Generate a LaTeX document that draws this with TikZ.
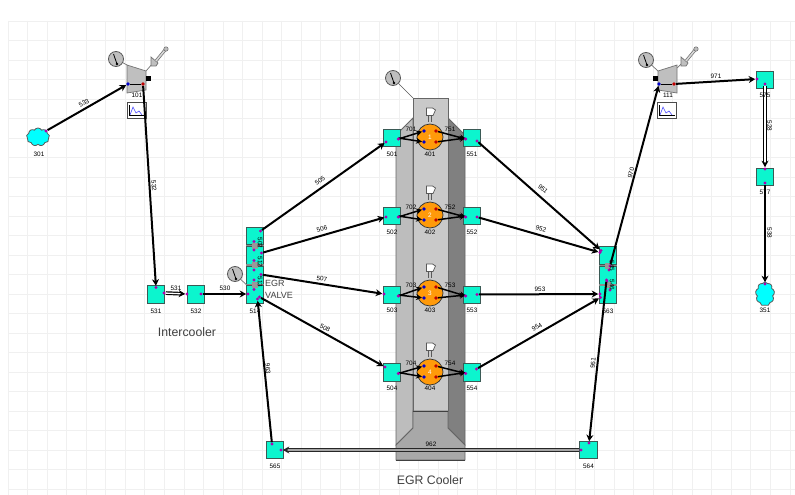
\documentclass[tikz,border=0pt]{standalone}
\usepackage{fontspec}
\setmainfont{Liberation Sans}
\usetikzlibrary{arrows.meta,shapes.symbols}
\definecolor{boxfill}{HTML}{0CF5CE}
\definecolor{boxedge}{HTML}{3A5A55}
\definecolor{portmag}{HTML}{B000B0}
\definecolor{gridc}{HTML}{F0F0F0}
\definecolor{cloudc}{HTML}{00FFFF}
\definecolor{cylc}{HTML}{FF9A0A}
\tikzset{
  pipebox/.style={draw=boxedge,line width=1.2pt,fill=boxfill,minimum width=17.5pt,minimum height=17.5pt,inner sep=0pt},
  lbl/.style={font=\fontsize{6.4}{7}\selectfont,text=black,inner sep=0pt},
  bigtxt/.style={font=\fontsize{12.3}{14}\selectfont,text=black!75,inner sep=0pt},
  port/.style={circle,fill=portmag,minimum size=3.2pt,inner sep=0pt},
  bport/.style={circle,fill=blue!80!black,minimum size=3.6pt,inner sep=0pt},
  rport/.style={circle,fill=red!75!black,minimum size=3.6pt,inner sep=0pt},
  pipe/.style={draw=black,line width=2pt,-{Stealth[length=6.5pt,width=7pt]}},
  runner/.style={draw=black,line width=1.5pt,-{Stealth[length=6pt,width=6pt]}},
  dpipe/.style={draw=black,line width=1.2pt,double=white,double distance=1.3pt,-{Stealth[length=6.5pt,width=7pt]}},
  gpipe/.style={draw=black!85,line width=1.1pt,double=black!35,double distance=1.6pt,-{Stealth[length=6.5pt,width=7pt]}},
  gaugec/.style={circle,draw=black!65,fill=black!25,line width=.8pt,minimum size=15pt,inner sep=0pt},
  cyl/.style={circle,draw=black!80,fill=cylc,line width=.7pt,minimum size=26pt,inner sep=0pt},
  vesselline/.style={draw=black!60,line width=.9pt},
  orifice/.style={fill=black!45,minimum width=18pt,minimum height=1.6pt,inner sep=0pt},
  orbody/.style={fill=black!40,minimum width=6pt,minimum height=6pt,inner sep=0pt},
  turb/.style={fill=black!25,draw=black!55,line width=.7pt},
  inj/.style={fill=white,draw=black!65,line width=.7pt},
  plotbox/.style={draw=black!70,fill=white,line width=.8pt,minimum width=18.5pt,minimum height=15.5pt,inner sep=0pt},
  cloudn/.style={cloud,cloud puffs=9,cloud puff arc=120,draw=black!65,fill=cloudc,line width=.8pt,inner sep=0pt}
}
\newcommand{\gaugeat}[3]{%
  \node[gaugec] (#1) at (#2,#3) {};
  \draw[black,line width=.8pt] (#2-2.5,#3-5) -- (#2+1,#3+5);
  \fill[black] (#2+1,#3+5) circle (1.4pt);
}
\newcommand{\plotwave}[2]{%
  \draw[blue!70,line width=.6pt] (#1-7,#2+5) -- (#1-4,#2-3) -- (#1-1,#2+3) -- (#1+2,#2+1) -- (#1+5,#2+5);
  \draw[black,line width=.5pt] (#1-8,#2-5) -- (#1-8,#2+5.5) -- (#1+8,#2+5.5);
}
\newcommand{\injector}[2]{%
  \draw[inj] (#1-3.5,#2-9) -- (#1+2.5,#2-9) -- (#1+5.5,#2-7) -- (#1+3,#2-1.5) -- (#1-3.5,#2-1.5) -- cycle;
  \draw[black!65,line width=.7pt] (#1-1.5,#2-1.5) -- (#1-1.5,#2+5) (#1+1.5,#2-1.5) -- (#1+1.5,#2+5);
}
\newcommand{\actuator}[2]{%
  \draw[turb] (#1-4,#2-3) -- (#1+3,#2+3) -- (#1+1,#2+6) -- (#1-4,#2+6) -- cycle;
  \draw[black!55,line width=3pt] (#1+1,#2+1) -- (#1+10,#2-10);
  \draw[black!15,line width=1.5pt] (#1+1,#2+1) -- (#1+10,#2-10);
  \draw[fill=black!25,draw=black!60,line width=.5pt] (#1+11,#2-11) circle (2.2pt);
}
\begin{document}
\begin{tikzpicture}[x=1pt,y=-1pt]
\useasboundingbox (0,0) rectangle (795,495);
\fill[white] (0,0) rectangle (795,495);
% grid
\foreach \i in {0,...,40} \draw[gridc,line width=.9pt] ({8+19.55*\i},21) -- ({8+19.55*\i},495);
\foreach \i in {0,...,24} \draw[gridc,line width=.9pt] (8,{21+19.5*\i}) -- (795,{21+19.5*\i});
% EGR cooler vessel
\fill[black!26,vesselline] (396,135) -- (413,118) -- (413,428) -- (396,445) -- cycle;
\fill[black!50,vesselline] (465,135) -- (448,118) -- (448,428) -- (465,445) -- cycle;
\draw[fill=black!21,vesselline] (413,98) rectangle (448,411);
\draw[fill=black!34,vesselline] (413,411) -- (448,411) -- (448,428) -- (465,445) -- (465,460) -- (396,460) -- (396,445) -- (413,428) -- cycle;
\draw[black!75,line width=.9pt] (413,411) -- (448,411) (396,460) -- (465,460);
% gauges
\gaugeat{g1}{116}{59}
\gaugeat{g2}{393}{78}
\gaugeat{g3}{235}{274}
\gaugeat{g4}{646}{60}
\coordinate (t1top) at (127,65);
\coordinate (t2top) at (658,71);
\coordinate (vtop) at (413,98);
\coordinate (vv) at (251,289);
\draw[black!55,line width=.7pt] (g1) -- (t1top);
\draw[black!65,line width=.7pt] (g2) -- (vtop);
\draw[black!55,line width=.7pt] (g3) -- (vv);
\draw[black!55,line width=.7pt] (g4) -- (t2top);
% compressor and turbine
\draw[black!55,line width=.7pt] (146,71) -- (153,63);
\draw[black!55,line width=.7pt] (677,68) -- (684,61);
\draw[turb] (127,65) -- (146,71) -- (146,90) -- (127,93) -- cycle;
\draw[turb] (658,71) -- (677,65) -- (677,93) -- (658,90) -- cycle;
\fill[black] (146,76) rectangle (151,81);
\fill[black] (653,76) rectangle (658,81);
\actuator{155}{60}
\actuator{685}{60}
% plot boxes
\node[plotbox] (p1) at (137,110.5) {};
\node[plotbox] (p2) at (667,110.5) {};
\plotwave{137}{110}
\plotwave{667}{110}
% boxes
\node[pipebox] (b512a) at (255,236) {};
\node[pipebox] (b512b) at (255,255.5) {};
\node[pipebox] (b512c) at (255,275.5) {};
\node[pipebox] (b514) at (255,294.5) {};
\node[pipebox] (b563a) at (608,255.5) {};
\node[pipebox] (b563b) at (608,275.5) {};
\node[pipebox] (b563c) at (608,294.5) {};
\node[pipebox] (b531) at (156,294.5) {};
\node[pipebox] (b532) at (196,294.5) {};
\node[pipebox] (b501) at (392,138) {};
\node[pipebox] (b502) at (392,216) {};
\node[pipebox] (b503) at (392,295) {};
\node[pipebox] (b504) at (392,372.5) {};
\node[pipebox] (b551) at (472,138) {};
\node[pipebox] (b552) at (472,216) {};
\node[pipebox] (b553) at (472,295) {};
\node[pipebox] (b554) at (472,372.5) {};
\node[pipebox] (b575) at (765,80) {};
\node[pipebox] (b577) at (765,177) {};
\node[pipebox] (b564) at (588.5,450) {};
\node[pipebox] (b565) at (275,450) {};
% clouds
\node[cloudn,aspect=1.2,minimum width=23pt,minimum height=18pt] (c301) at (38,137) {};
\node[cloudn,aspect=.8,minimum width=19pt,minimum height=24pt] (c351) at (765,294) {};
% orifices
\foreach \n/\x/\y in {o1/255/245.5,o2/255/265,o3/255/284.5,o4/608/265.5,o5/608/285} {
  \node[orifice] (\n) at (\x,\y) {};
  \node[orbody] (\n b) at (\x,\y) {};
}
% cylinders and injectors
\foreach \n/\y in {401/137,402/215,403/293,404/372} {
  \node[cyl] (cy\n) at (430,\y) {};
  \injector{430}{\y-20}
}
% ports
\node[port] (ps301) at (46,131) {};
\node[port] (ps531) at (164,293) {};
\node[port] (es532) at (187,294) {};
\node[port] (ps532) at (201,294) {};
\node[port] (pe514) at (248,294) {};
\node[port] (ps505) at (260.5,231) {};
\node[port] (ps506) at (261.5,253) {};
\node[port] (ps507) at (261,274.5) {};
\node[port] (ps508) at (259.5,297) {};
\node[port] (pe501) at (386,142) {};
\node[port] (pe502) at (386,217) {};
\node[port] (pe503) at (384,294) {};
\node[port] (pe504) at (385,367) {};
\node[port] (ps551) at (477,141) {};
\node[port] (ps552) at (477,217) {};
\node[port] (ps553) at (477,294.5) {};
\node[port] (ps554) at (476.5,369) {};
\node[port] (pe951) at (601,250.5) {};
\node[port] (pe952) at (600,252.5) {};
\node[port] (pe953) at (600,294) {};
\node[port] (pe954) at (600.5,297.5) {};
\node[port] (ps970) at (610,266) {};
\node[port] (ps961) at (606.5,280) {};
\node[port] (pe961) at (589,443) {};
\node[port] (ps962) at (581,450) {};
\node[port] (pe962) at (281,450) {};
\node[port] (ps963) at (272,444) {};
\node[port] (pe963) at (257.5,299) {};
\node[port] (pe971) at (757,79) {};
\node[port] (ps575) at (765,84) {};
\node[port] (pe577) at (765,169) {};
\node[port] (ps577) at (765,183) {};
\node[port] (pe351) at (765,284) {};
\node[port] (pe531) at (156,287.5) {};
\foreach \n/\x/\y in {a1/254/241.5,a2/254/250,a3/254/260.5,a4/254/270,a5/254/280,a6/254/289.5,a7/611/261,a8/609/270,a9/607/281,a10/610/290} {\node[port] (\n) at (\x,\y) {};}
% compressor ports
\node[bport] (t1in) at (128,84) {};
\node[rport] (t1out) at (143,84) {};
\node[bport] (t2in) at (659,84) {};
\node[rport] (t2out) at (674,84) {};
\draw[black,line width=.6pt] (t1in) -- (t1out);
\draw[black,line width=.6pt] (t2in) -- (t2out);
% engine ports
\foreach \n/\y in {401/137,402/215,403/293,404/372} {
  \node[bport] (bu\n) at (424,\y-6) {};
  \node[bport] (bd\n) at (424,\y+5) {};
  \node[rport] (ru\n) at (436,\y-6) {};
  \node[rport] (rd\n) at (436,\y+5) {};
}
% main connectors
\draw[pipe] (ps301) -- (t1in);
\draw[pipe] (t1out) -- (pe531);
\draw[dpipe] (ps531) -- (es532);
\draw[pipe] (ps532) -- (pe514);
\draw[pipe] (ps505) -- (pe501);
\draw[pipe] (ps506) -- (pe502);
\draw[pipe] (ps507) -- (pe503);
\draw[pipe] (ps508) -- (pe504);
\draw[pipe] (ps551) -- (pe951);
\draw[pipe] (ps552) -- (pe952);
\draw[pipe] (ps553) -- (pe953);
\draw[pipe] (ps554) -- (pe954);
\draw[pipe] (ps970) -- (t2in);
\draw[pipe] (t2out) -- (pe971);
\draw[dpipe] (ps575) -- (pe577);
\draw[pipe] (ps577) -- (pe351);
\draw[pipe] (ps961) -- (pe961);
\draw[gpipe] (ps962) -- (pe962);
\draw[pipe] (ps963) -- (pe963);
% runners
\foreach \a/\n/\c in {b501/401/b551,b502/402/b552,b503/403/b553,b504/404/b554} {
  \draw[runner] ([xshift=-3pt,yshift=-1pt]\a.east) -- (bu\n);
  \draw[runner] ([xshift=-3pt]\a.east) -- (bd\n);
  \draw[runner] (ru\n) -- ([xshift=3pt,yshift=-1pt]\c.west);
  \draw[runner] (rd\n) -- ([xshift=3pt]\c.west);
  \fill[portmag] ([xshift=-3pt,yshift=-1pt]\a.east) circle (1.7pt);
  \fill[portmag] ([xshift=3pt,yshift=-1pt]\c.west) circle (1.7pt);
}
% connector labels
\node[lbl,rotate=30] (l533) at (84,103) {533};
\node[lbl,rotate=-85] (l532) at (154,186) {532};
\node[lbl] (l531) at (176,288) {531};
\node[lbl] (l530) at (225,288) {530};
\node[lbl,rotate=35] (l505) at (320,181) {505};
\node[lbl,rotate=16] (l506) at (322,229) {506};
\node[lbl,rotate=-7] (l507) at (322,279) {507};
\node[lbl,rotate=-28] (l508) at (325,328) {508};
\node[lbl,rotate=-41] (l951) at (543,189) {951};
\node[lbl,rotate=-16] (l952) at (541,229) {952};
\node[lbl] (l953) at (540,289) {953};
\node[lbl,rotate=30] (l954) at (537,327) {954};
\node[lbl,rotate=75] (l970) at (631,173) {970};
\node[lbl] (l971) at (716,76) {971};
\node[lbl,rotate=-90] (l528) at (769.5,126) {528};
\node[lbl,rotate=-90] (l538) at (769.5,233) {538};
\node[lbl,rotate=84] (l961) at (593,363) {961};
\node[lbl] (l962) at (431,444) {962};
\node[lbl,rotate=-85] (l963) at (268,369) {963};
% stack labels
\node[lbl,rotate=-90] (l502r) at (260,243) {502};
\node[lbl,rotate=-90] (l512r) at (260,262) {512};
\node[lbl,rotate=-90] (l513r) at (260,282) {513};
\node[lbl,rotate=-90] (l545r) at (612,266) {545};
\node[lbl,rotate=-90] (l546r) at (612,285) {546};
% element labels
\node[lbl] (l301) at (39,154) {301};
\node[lbl] (l351) at (765,310) {351};
\node[lbl] (l101) at (137,95.5) {101};
\node[lbl] (l111) at (668,95.5) {111};
\node[lbl] (l531b) at (156,311) {531};
\node[lbl] (l532b) at (196,311) {532};
\node[lbl] (l514) at (255,311) {514};
\node[lbl] (l563) at (608,311) {563};
\node[lbl] (l575) at (765,95) {575};
\node[lbl] (l577) at (765,192.5) {577};
\node[lbl] (l564) at (588.5,466) {564};
\node[lbl] (l565) at (275,466) {565};
\node[lbl] (l501) at (392,154) {501};
\node[lbl] (l502) at (392,232) {502};
\node[lbl] (l503) at (392,310) {503};
\node[lbl] (l504) at (392,388) {504};
\node[lbl] (l551) at (472,154) {551};
\node[lbl] (l552) at (472,232) {552};
\node[lbl] (l553) at (472,310) {553};
\node[lbl] (l554) at (472,388) {554};
\node[lbl] (l401) at (430,154) {401};
\node[lbl] (l402) at (430,232) {402};
\node[lbl] (l403) at (430,310) {403};
\node[lbl] (l404) at (430,388) {404};
\foreach \n/\t/\y in {r1/701/129,r2/702/207,r3/703/285,r4/704/363} {\node[lbl] (\n) at (411,\y) {\t};}
\foreach \n/\t/\y in {q1/751/129,q2/752/207,q3/753/285,q4/754/363} {\node[lbl] (\n) at (450,\y) {\t};}
\foreach \n/\t/\y in {w1/1/137,w2/2/215,w3/3/293,w4/4/372} {\node[lbl,text=white] (\n) at (430,\y) {\t};}
% captions
\node[font=\fontsize{9}{10}\selectfont,text=black!75,anchor=west,inner sep=0pt] (tegr) at (265,283.5) {EGR};
\node[font=\fontsize{9}{10}\selectfont,text=black!75,anchor=west,inner sep=0pt] (tval) at (265,295) {VALVE};
\node[bigtxt] (tic) at (187,332) {Intercooler};
\node[bigtxt] (tec) at (430,480) {EGR Cooler};
\end{tikzpicture}
\end{document}
